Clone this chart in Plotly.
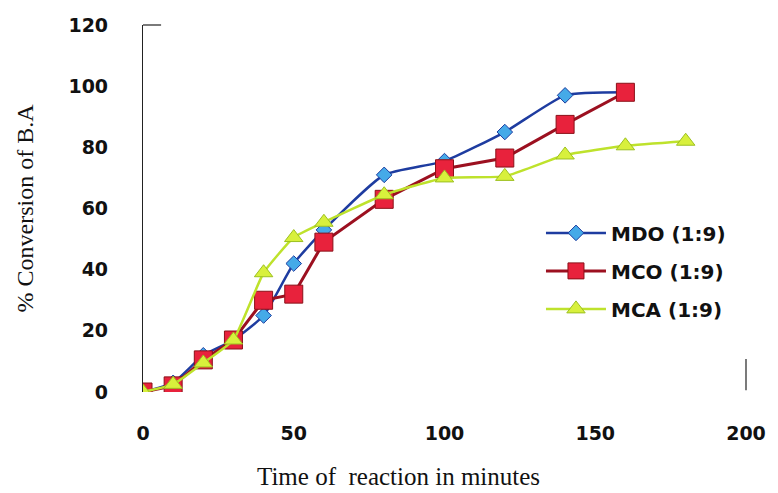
import plotly.graph_objects as go

# Reaction time (minutes) and % conversion of benzyl alcohol for each catalyst
time_mdo = [0, 10, 20, 30, 40, 50, 60, 80, 100, 120, 140, 160]
conv_mdo = [0, 3, 12, 17, 25, 42, 53, 71, 75.5, 85, 97, 98]

time_mco = [0, 10, 20, 30, 40, 50, 60, 80, 100, 120, 140, 160]
conv_mco = [0, 2, 10.5, 17, 30, 32, 49, 63, 73, 76.5, 87.5, 98]

time_mca = [0, 10, 20, 30, 40, 50, 60, 80, 100, 120, 140, 160, 180]
conv_mca = [0, 2.5, 9.5, 17, 39, 50.5, 55.5, 64.5, 70, 70.5, 77.5, 80.5, 82]

x_ticks = [0, 50, 100, 150, 200]
y_ticks = [0, 20, 40, 60, 80, 100, 120]

fig = go.Figure()

fig.add_trace(go.Scatter(
    x=time_mdo, y=conv_mdo, name="MDO (1:9)", mode="lines+markers",
    legendgroup="mdo",
    line=dict(color="#1E3CA0", width=2.5, shape="spline", smoothing=0.5),
    marker=dict(symbol="diamond", size=12, color="#45AAE8",
                line=dict(color="#1E3CA0", width=1)),
))
fig.add_trace(go.Scatter(
    x=time_mco, y=conv_mco, name="MCO (1:9)", mode="lines+markers",
    legendgroup="mco",
    line=dict(color="#9C1020", width=3),
    marker=dict(symbol="square", size=18, color="#E8223C",
                line=dict(color="#8A1018", width=1)),
))
fig.add_trace(go.Scatter(
    x=time_mca, y=conv_mca, name="MCA (1:9)", mode="lines+markers",
    legendgroup="mca",
    line=dict(color="#BEE22C", width=2.5, shape="spline", smoothing=0.4),
    marker=dict(symbol="triangle-up", size=16, color="#D8F03C",
                line=dict(color="#9CC020", width=1)),
))

tick_font = dict(family="DejaVu Sans", size=19, color="#111111", weight="bold")
title_font = dict(family="Liberation Serif", size=24, color="#111111")

fig.update_layout(
    width=778, height=493,
    margin=dict(l=143, r=26, t=25, b=101),
    paper_bgcolor="white", plot_bgcolor="white",
    showlegend=True,
    legend=dict(
        x=0.66, y=0.33, xanchor="left", yanchor="middle",
        font=dict(family="DejaVu Sans", size=20, color="#111111", weight="bold"),
        itemwidth=60, tracegroupgap=9, bgcolor="rgba(0,0,0,0)",
    ),
    xaxis=dict(
        range=[0, 200], tickvals=x_ticks, showgrid=False, zeroline=False,
        showline=False, ticks="", tickfont=tick_font, ticklabelstandoff=28,
    ),
    yaxis=dict(
        range=[0, 120], tickvals=y_ticks, showgrid=False, zeroline=False,
        showline=True, linecolor="#222222", linewidth=1.2, ticks="",
        tickfont=tick_font, ticklabelstandoff=30,
        title=dict(text="% Conversion of B.A", font=title_font, standoff=28),
    ),
    annotations=[
        dict(text="Time of  reaction in minutes", xref="paper", yref="paper",
             x=0.423, y=-0.229, xanchor="center", yanchor="middle",
             showarrow=False, font=dict(family="Liberation Serif", size=25,
                                        color="#111111")),
    ],
    shapes=[
        # short remnants of the plot-area frame
        dict(type="line", xref="paper", yref="paper", x0=0, x1=0.03, y0=1, y1=1,
             line=dict(color="#222222", width=1.2)),
        dict(type="line", xref="paper", yref="paper", x0=1, x1=1, y0=0.005, y1=0.09,
             line=dict(color="#222222", width=1.2)),
    ],
)

fig.write_html("out.html")
